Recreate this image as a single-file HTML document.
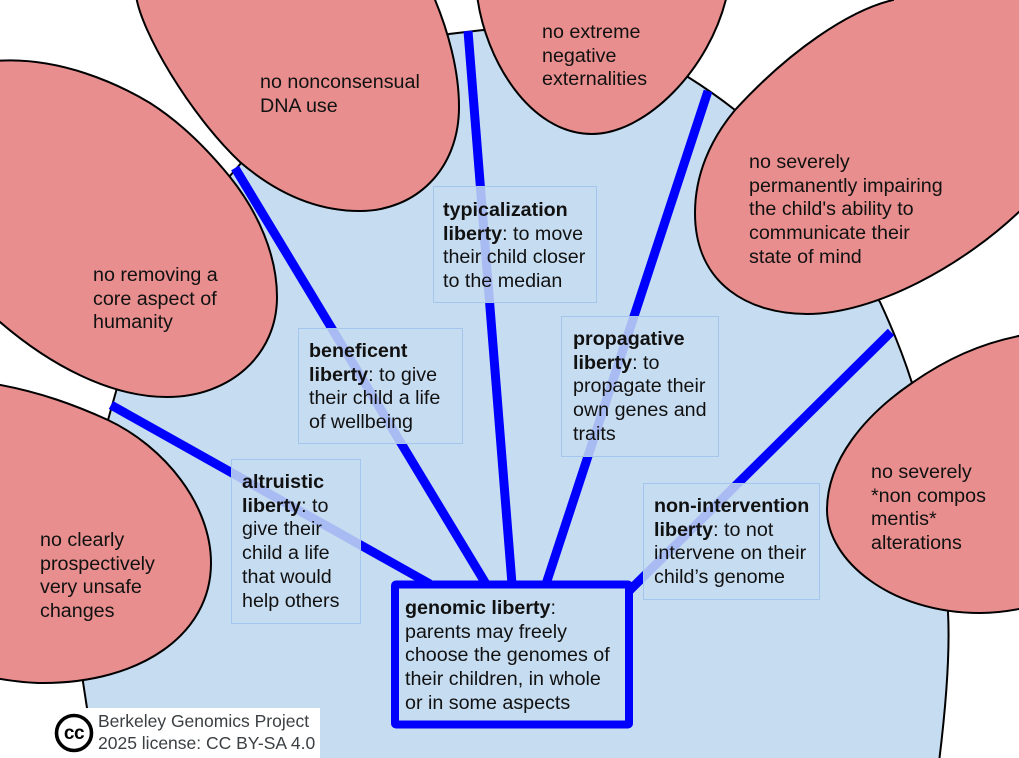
<!DOCTYPE html>
<html><head><meta charset="utf-8"><style>
html,body{margin:0;padding:0;background:#fff}
body{width:1019px;height:758px;overflow:hidden;position:relative}
svg{position:absolute;left:0;top:0}
.t{position:absolute;font:19.7px/23.7px "Liberation Sans",sans-serif;color:#111;white-space:nowrap;margin-top:1px}
.b{position:absolute;box-sizing:border-box;background:rgba(198,220,241,.85);border:1.3px solid #a4c6ec}
</style></head><body>
<svg width="1019" height="758" viewBox="0 0 1019 758">
<path d="M229 177 L242 162 L449 34 L483 30 L688 77 Q712 92 735 110 L880 302 Q900 345 912 383 L948 612 C950 650 947 700 938 770 L91 770 L87 708 L83 682 L108 420 L117 388 Z" fill="#c6dcf1" stroke="#000" stroke-width="2"/>
<g fill="#e88e8e" stroke="#000" stroke-width="2">
<path d="M-5 384 C40 392 75 405 108 420 C165 447 211 505 211 563 C211 635 140 683 43 683 C28 683 12 681 -5 678 Z"/>
<path d="M-5 61 C60 56 120 85 150 103 C180 122 208 150 230 177 C258 212 277 255 277 297 C277 355 230 397 167 397 C110 397 50 365 0 322 L-5 318 Z"/>
<path d="M136 -5 C140 30 190 115 240 162 C275 192 315 211 360 211 C415 211 459 170 459 107 C459 70 448 30 433 -5 Z"/>
<path d="M477 -5 C485 60 530 134 592 134 C645 134 710 70 727 -5 Z"/>
<path d="M893 0 C850 10 790 50 735 110 C710 140 695 175 695 213 C695 285 750 314 807 314 C875 314 965 265 1024 207 L1030 -5 L893 -5 Z"/>
<path d="M1024 335 C980 343 945 360 912 383 C865 415 827 460 827 510 C827 560 890 613 980 613 C995 613 1010 611 1024 608 Z"/>
</g>
<g stroke="#0000ff" stroke-width="9" fill="none">
<path d="M111 405 L430 584"/>
<path d="M235 168 L486 584"/>
<path d="M468 31 L512 584"/>
<path d="M708 91 L546 584"/>
<path d="M891 332 L630 590"/>
</g>
<rect x="395" y="584.5" width="234" height="140" rx="1" fill="#c6dcf1" stroke="#0000ff" stroke-width="8" stroke-linejoin="round"/>
</svg>
<div class="b" style="left:231px;top:459px;width:130px;height:165px"></div>
<div class="b" style="left:298px;top:328px;width:165px;height:116px"></div>
<div class="b" style="left:433px;top:186px;width:164px;height:117px"></div>
<div class="b" style="left:561px;top:316px;width:158px;height:141px"></div>
<div class="b" style="left:643px;top:483px;width:177px;height:117px"></div>
<div class="t" style="left:260px;top:70px">no nonconsensual<br>DNA use</div>
<div class="t" style="left:542px;top:20px">no extreme<br>negative<br>externalities</div>
<div class="t" style="left:749px;top:150px">no severely<br>permanently impairing<br>the child's ability to<br>communicate their<br>state of mind</div>
<div class="t" style="left:93px;top:263px">no removing a<br>core aspect of<br>humanity</div>
<div class="t" style="left:871px;top:460px">no severely<br>*non compos<br>mentis*<br>alterations</div>
<div class="t" style="left:40px;top:528px">no clearly<br>prospectively<br>very unsafe<br>changes</div>
<div class="t" style="left:443px;top:198px"><b>typicalization<br>liberty</b>: to move<br>their child closer<br>to the median</div>
<div class="t" style="left:309px;top:339px"><b>beneficent<br>liberty</b>: to give<br>their child a life<br>of wellbeing</div>
<div class="t" style="left:573px;top:327px"><b>propagative<br>liberty</b>: to<br>propagate their<br>own genes and<br>traits</div>
<div class="t" style="left:242px;top:470px"><b>altruistic<br>liberty</b>: to<br>give their<br>child a life<br>that would<br>help others</div>
<div class="t" style="left:654px;top:494px"><b>non-intervention<br>liberty</b>: to not<br>intervene on their<br>child’s genome</div>
<div class="t" style="left:405px;top:596px"><b>genomic liberty</b>:<br>parents may freely<br>choose the genomes of<br>their children, in whole<br>or in some aspects</div>
<div style="position:absolute;left:85px;top:708px;width:235px;height:50px;background:#fff"></div>
<svg width="50" height="50" style="left:50px;top:708px" viewBox="0 0 50 50">
<circle cx="24" cy="25" r="17.5" fill="#fff" stroke="#000" stroke-width="3.6"/>
<text x="24" y="31" text-anchor="middle" font-family="Liberation Sans,sans-serif" font-weight="bold" font-size="19" letter-spacing="-.5" fill="#000">cc</text>
</svg>
<div class="t" style="left:98px;top:711px;margin-top:0;font-size:17.5px;line-height:21.5px;color:#3c4043">Berkeley Genomics Project<br>2025 license: CC BY-SA 4.0</div>
</body></html>
